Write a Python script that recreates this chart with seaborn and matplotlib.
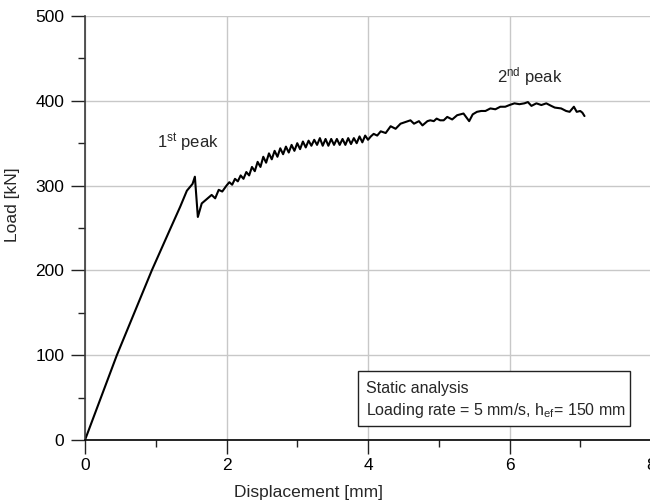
import matplotlib
matplotlib.use("Agg")
import matplotlib.pyplot as plt
from matplotlib.patches import Rectangle
from matplotlib.ticker import MultipleLocator
import seaborn as sns
import pandas as pd

# ---- data ----
displacement = [
    0.0, 0.45, 0.944, 1.2, 1.345, 1.44, 1.49, 1.52, 1.553, 1.595,
    1.65, 1.72, 1.79, 1.84, 1.89, 1.94,
    2.00, 2.04, 2.08, 2.12, 2.16, 2.20, 2.24, 2.28, 2.32, 2.36,
    2.40, 2.44, 2.48, 2.52, 2.56, 2.60, 2.64, 2.68, 2.72, 2.76,
    2.80, 2.84, 2.88, 2.92, 2.96, 3.00, 3.04, 3.08, 3.12, 3.16,
    3.20, 3.24, 3.28, 3.32, 3.36, 3.40, 3.44, 3.48, 3.52, 3.56,
    3.60, 3.64, 3.68, 3.72, 3.76, 3.80, 3.84, 3.88, 3.92, 3.96,
    4.00, 4.04, 4.08, 4.13, 4.18, 4.25, 4.32, 4.39, 4.46, 4.53,
    4.60, 4.65, 4.72, 4.77, 4.84, 4.88, 4.93, 4.97, 5.02, 5.07,
    5.12, 5.19, 5.26, 5.35, 5.43, 5.48, 5.54, 5.60, 5.66, 5.73,
    5.80, 5.87, 5.94, 6.00, 6.07, 6.14, 6.21, 6.26, 6.31, 6.38,
    6.45, 6.52, 6.59, 6.64, 6.73, 6.80, 6.85, 6.91, 6.95, 7.00,
    7.03, 7.06,
]
load = [
    0, 100, 200, 248, 275, 294, 299, 302, 310.5, 263,
    279, 284, 289, 285, 295, 293,
    300, 304, 301, 308, 305, 312, 308, 316, 312, 322,
    317, 328, 322, 334, 327, 338, 331, 341, 334, 344,
    337, 346, 339, 348, 341, 350, 343, 352, 345, 353,
    347, 354, 348, 356, 347, 355, 347, 355, 348, 355,
    348, 355, 348, 356, 349, 356, 350, 358, 351, 359,
    354, 358, 361, 359, 364, 362, 370, 367, 373, 375,
    377, 373, 376, 371, 376, 377, 376, 379, 377, 377,
    381, 378, 383, 385, 376, 384, 387, 388, 388, 391,
    390, 393, 393, 395, 397, 396, 397, 398.5, 394, 397,
    395, 397, 394, 392, 391, 388, 387, 393, 387, 388,
    386, 382,
]
x_ticks = [0, 2, 4, 6, 8]
y_ticks = [0, 100, 200, 300, 400, 500]
x_label = "Displacement [mm]"
y_label = "Load [kN]"
peak1_text = r"1$^{\mathrm{st}}$ peak"
peak2_text = r"2$^{\mathrm{nd}}$ peak"
box_line1 = "Static analysis"
box_line2 = r"Loading rate = 5 mm/s, h$_{\mathrm{ef}}$= 150 mm"

df = pd.DataFrame({"Displacement": displacement, "Load": load})

sns.set_theme(style="ticks")
plt.rcParams["font.family"] = ["Liberation Sans", "DejaVu Sans"]
plt.rcParams["mathtext.fontset"] = "custom"
plt.rcParams["mathtext.rm"] = "Liberation Sans"
plt.rcParams["mathtext.it"] = "Liberation Sans:italic"
plt.rcParams["mathtext.bf"] = "Liberation Sans:bold"

fig = plt.figure(figsize=(6.5, 5.04), dpi=100)
ax = fig.add_axes([85 / 650, 64 / 504, 566 / 650, 424 / 504])

sns.lineplot(data=df, x="Displacement", y="Load", ax=ax, sort=False,
             estimator=None, color="black", linewidth=1.5)

ax.set_xlim(0, 8)
ax.set_ylim(0, 500)
ax.set_xticks(x_ticks)
ax.set_yticks(y_ticks)
ax.xaxis.set_minor_locator(MultipleLocator(1))
ax.yaxis.set_minor_locator(MultipleLocator(50))
ax.grid(True, which="major", color="#c8c8c8", linewidth=1.0)
ax.set_axisbelow(True)

for s in ["top", "right"]:
    ax.spines[s].set_visible(False)
ax.spines["left"].set_color("#3a3a3a")
ax.spines["bottom"].set_color("black")
ax.spines["left"].set_linewidth(1.2)
ax.spines["bottom"].set_linewidth(1.2)

ax.tick_params(which="major", direction="out", length=10, width=1.0,
               color="#222222", labelsize=12.5, labelcolor="black")
ax.tick_params(axis="y", which="major", pad=5)
ax.tick_params(axis="x", which="major", pad=3)
ax.tick_params(which="minor", direction="out", length=5, width=1.0,
               color="#222222")

ax.set_xlabel(x_label, fontsize=12.5)
ax.set_ylabel(y_label, fontsize=12.5)
ax.xaxis.set_label_coords((308 - 85) / 566, (440 - 485) / 424)
ax.yaxis.set_label_coords((20 - 85) / 566, (440 - 205) / 424)

ax.text(1.46, 350, peak1_text, fontsize=12, ha="center", va="center")
ax.text(6.28, 429, peak2_text, fontsize=12, ha="center", va="center")

ax.add_patch(Rectangle((0.483, 0.033), 0.48, 0.130, transform=ax.transAxes,
                       facecolor="white", edgecolor="#222222", linewidth=1.0,
                       zorder=5))
ax.text(0.497, 0.121, box_line1, transform=ax.transAxes, fontsize=11.5,
        ha="left", va="center", zorder=6)
ax.text(0.497, 0.070, box_line2, transform=ax.transAxes, fontsize=11.5,
        ha="left", va="center", zorder=6)

fig.savefig("out.png", dpi=100)
